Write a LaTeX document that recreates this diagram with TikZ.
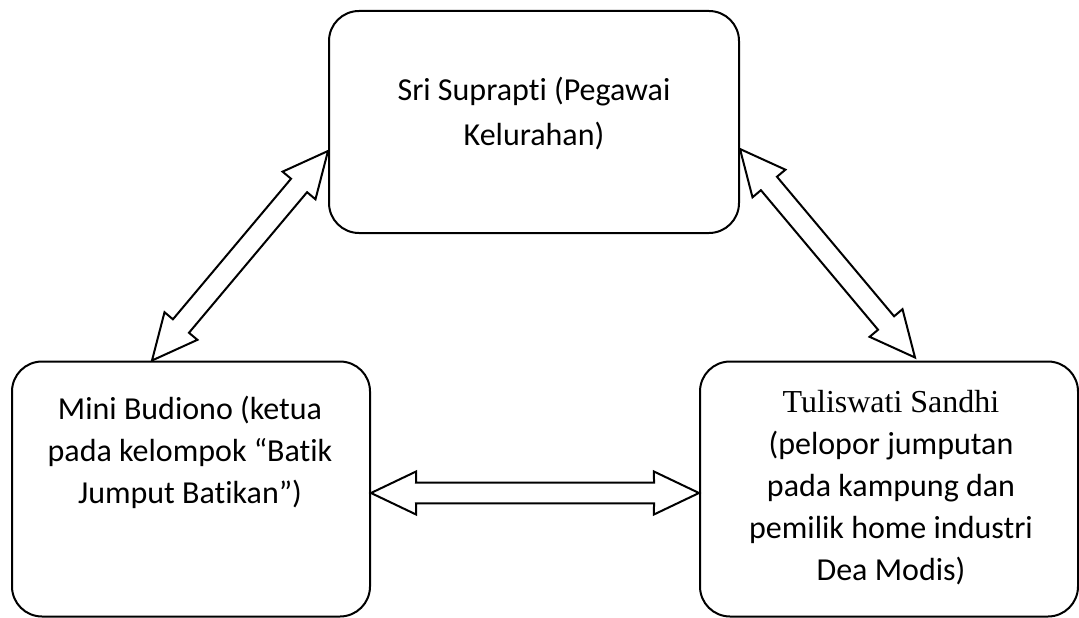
\documentclass[tikz,border=0pt]{standalone}
\usepackage{fontspec}
\setmainfont{Carlito}[Ligatures=NoCommon]
\newfontfamily\timesfont{Liberation Serif}
\usetikzlibrary{positioning,calc}

\tikzset{
  box/.style={draw, line width=2pt, rounded corners=30pt, inner sep=0pt},
  txt/.style={align=center, inner sep=0pt, font=\fontsize{32}{42}\selectfont},
  hollow/.style={draw, line width=2pt, line join=miter, fill=white},
}

% hollow block arrow with a head at both ends
\newcommand\twoway[2]{%
  \draw[hollow] (#1) -- ($(#1)!49.9pt!25.5:(#2)$) -- ($(#1)!46.2pt!13.1:(#2)$)
    -- ($(#2)!46.2pt!-13.1:(#1)$) -- ($(#2)!49.9pt!-25.5:(#1)$) -- (#2)
    -- ($(#2)!49.9pt!25.5:(#1)$) -- ($(#2)!46.2pt!13.1:(#1)$)
    -- ($(#1)!46.2pt!-13.1:(#2)$) -- ($(#1)!49.9pt!-25.5:(#2)$) -- cycle;}

\begin{document}
\begin{tikzpicture}[x=1pt,y=-1pt]
\useasboundingbox (0,0) rectangle (1079,618);
\node[box, minimum width=410pt, minimum height=222pt] (sri) at (534,122) {};
\node[box, minimum width=358pt, minimum height=255pt] (mini) at (191,489) {};
\node[box, minimum width=378pt, minimum height=255pt] (tuli) at (889,489) {};
\node[txt, font=\fontsize{32}{45}\selectfont] (sritxt) at (534,114) {Sri Suprapti (Pegawai\\Kelurahan)};
\node[txt] (minitxt) at (190,452) {Mini Budiono (ketua\\pada kelompok “Batik\\Jumput Batikan”)};
\node[txt] (tulitxt) at (891,488) {{\timesfont\fontsize{32}{42}\selectfont Tuliswati Sandhi}\\(pelopor jumputan\\pada kampung dan\\pemilik home industri\\Dea Modis)};
\coordinate (a1) at ([yshift=-29pt]sri.west);
\coordinate (a2) at ([xshift=-39pt]mini.north);
\coordinate (b1) at ([yshift=-27pt]sri.east);
\coordinate (b2) at ([xshift=26pt,yshift=3pt]tuli.north);
\coordinate (c1) at ([yshift=-4pt]mini.east);
\coordinate (c2) at ([yshift=-4pt]tuli.west);
\twoway{a1}{a2}
\twoway{b1}{b2}
\twoway{c1}{c2}
\end{tikzpicture}
\end{document}
